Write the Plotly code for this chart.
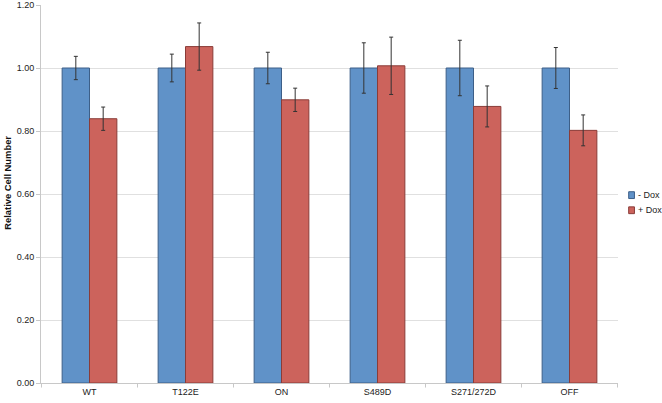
import plotly.graph_objects as go

categories = ["WT", "T122E", "ON", "S489D", "S271/272D", "OFF"]
minus_dox = [1.00, 1.00, 1.00, 1.00, 1.00, 1.00]
minus_dox_err = [0.037, 0.044, 0.050, 0.080, 0.088, 0.065]
plus_dox = [0.839, 1.068, 0.899, 1.007, 0.878, 0.802]
plus_dox_err = [0.037, 0.075, 0.037, 0.091, 0.065, 0.049]
y_ticks = [0.0, 0.2, 0.4, 0.6, 0.8, 1.0, 1.2]

series_names = ["- Dox", "+ Dox"]
fill_colors = ["#6092C8", "#CC635C"]
edge_colors = ["#3D5F88", "#8A3C38"]

font = "Liberation Sans, Arial, sans-serif"

fig = go.Figure()
for name, vals, errs, fc, ec in zip(series_names, [minus_dox, plus_dox],
                                    [minus_dox_err, plus_dox_err],
                                    fill_colors, edge_colors):
    fig.add_trace(go.Bar(
        x=categories, y=vals, name=name, showlegend=False,
        marker=dict(color=fc, line=dict(color=ec, width=1)),
        error_y=dict(type="data", array=errs, color="#333333", thickness=1, width=2),
    ))

fig.update_layout(
    width=662, height=403,
    margin=dict(l=41, r=44, t=5, b=20),
    paper_bgcolor="white", plot_bgcolor="white",
    barmode="group", bargap=0.43, bargroupgap=0,
    font=dict(family=font, size=9, color="#222222"),
    showlegend=False,
    xaxis=dict(
        type="category", showline=True, linecolor="#c8c8c8", linewidth=1,
        ticks="", showgrid=False, tickfont=dict(size=9), automargin=False,
    ),
    yaxis=dict(
        range=[0, 1.2], tickvals=y_ticks, tickformat=".2f",
        showgrid=True, gridcolor="#e0e0e0", gridwidth=1,
        showline=True, linecolor="#c8c8c8", linewidth=1,
        ticks="outside", ticklen=4, tickcolor="#c8c8c8",
        zeroline=False, tickfont=dict(size=9), automargin=False,
    ),
)

# y axis title, placed like the original (a bit above the plot's middle)
fig.add_annotation(xref="paper", yref="paper", x=-0.057, y=0.53,
                   xanchor="center", yanchor="middle", showarrow=False,
                   textangle=-90, text="<b>Relative Cell Number</b>",
                   font=dict(size=9.4, color="#111111"))

# category boundary ticks on the x axis
for i in range(len(categories) + 1):
    fig.add_shape(type="line", xref="x", yref="paper",
                  x0=i - 0.5, x1=i - 0.5, y0=0, y1=-0.012,
                  line=dict(color="#c8c8c8", width=1))

# Excel-style legend on the right
for k, (name, fc, ec) in enumerate(zip(series_names, fill_colors, edge_colors)):
    yc = 0.497 - k * 0.04
    fig.add_shape(type="rect", xref="paper", yref="paper",
                  x0=1.0185, x1=1.0285, y0=yc - 0.009, y1=yc + 0.009,
                  fillcolor=fc, line=dict(color=ec, width=1))
    fig.add_annotation(xref="paper", yref="paper", x=1.031, y=yc,
                       xanchor="left", yanchor="middle", showarrow=False,
                       text=name, font=dict(size=9, color="#222222"))

# drop the default page margin so the figure sits at the window's corner
fig.write_html("out.html", config={"displayModeBar": False},
               post_script="document.body.style.margin='0';")
